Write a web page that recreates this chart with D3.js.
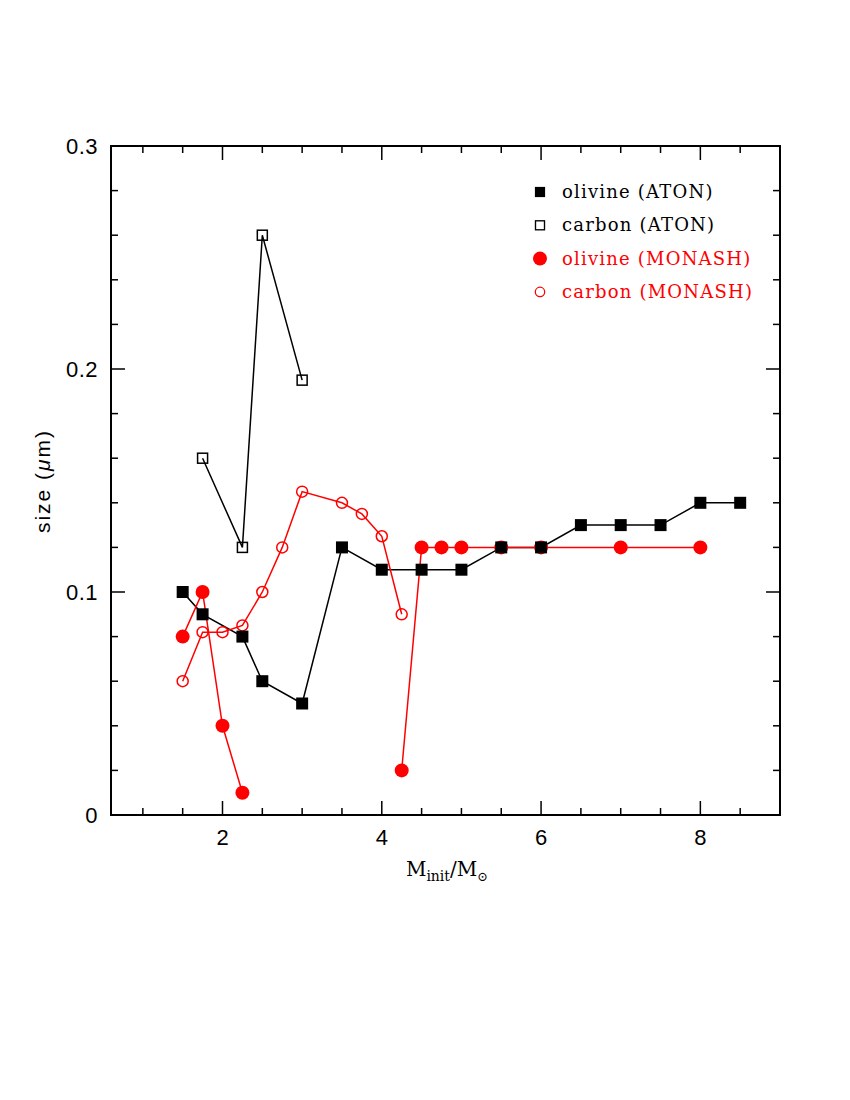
<!DOCTYPE html>
<html><head><meta charset="utf-8">
<script src="https://cdn.jsdelivr.net/npm/d3@7"></script>
<style>body{margin:0;background:#fff}</style>
</head><body>
<svg id="c" width="850" height="1100"></svg>
<script>
const olivineAtonX = [1.5,1.75,2.25,2.5,3,3.5,4,4.5,5,5.5,6,6.5,7,7.5,8,8.5];
const olivineAtonY = [0.10,0.09,0.08,0.06,0.05,0.12,0.11,0.11,0.11,0.12,0.12,0.13,0.13,0.13,0.14,0.14];
const carbonAtonX = [1.75,2.25,2.5,3];
const carbonAtonY = [0.16,0.12,0.26,0.195];
// null marks a break in the connecting line
const olivineMonashX = [1.5,1.75,2,2.25,null,4.25,4.5,4.75,5,5.5,6,7,8];
const olivineMonashY = [0.08,0.10,0.04,0.01,null,0.02,0.12,0.12,0.12,0.12,0.12,0.12,0.12];
const carbonMonashX = [1.5,1.75,2,2.25,2.5,2.75,3,3.5,3.75,4,4.25];
const carbonMonashY = [0.06,0.082,0.082,0.085,0.10,0.12,0.145,0.14,0.135,0.125,0.09];
const xMajorTicks = [2,4,6,8];
const yMajorTicks = [0,0.1,0.2,0.3];
const legendLabels = ["olivine (ATON)","carbon (ATON)","olivine (MONASH)","carbon (MONASH)"];

const svg = d3.select("#c");
const L=111, R=780, T=146, B=815;
const x = d3.scaleLinear().domain([0.6,9]).range([L,R]);
const y = d3.scaleLinear().domain([0,0.3]).range([B,T]);

const zip = (xs,ys)=>xs.map((v,i)=>({x:v,y:ys[i]}));
const line = d3.line().defined(d=>d.x!==null&&d.y!==null).x(d=>x(d.x)).y(d=>y(d.y));

// frame
svg.append("rect").attr("x",L).attr("y",T).attr("width",R-L).attr("height",B-T)
  .attr("fill","none").attr("stroke","#000").attr("stroke-width",2);

// ticks
const xMinor = d3.range(1,9.01,0.5).filter(v=>!xMajorTicks.includes(v));
const yMinor = d3.range(0.02,0.3,0.02).filter(v=>!yMajorTicks.some(t=>Math.abs(t-v)<1e-6));
const tg = svg.append("g").attr("stroke","#000").attr("stroke-width",1.5);
function xt(v,len){
  tg.append("line").attr("x1",x(v)).attr("x2",x(v)).attr("y1",B).attr("y2",B-len);
  tg.append("line").attr("x1",x(v)).attr("x2",x(v)).attr("y1",T).attr("y2",T+len);
}
function yt(v,len){
  tg.append("line").attr("y1",y(v)).attr("y2",y(v)).attr("x1",L).attr("x2",L+len);
  tg.append("line").attr("y1",y(v)).attr("y2",y(v)).attr("x1",R).attr("x2",R-len);
}
xMajorTicks.forEach(v=>xt(v,14)); xMinor.forEach(v=>xt(v,7));
yMajorTicks.forEach(v=>yt(v,14)); yMinor.forEach(v=>yt(v,7));

const tf = "Liberation Sans, Arial, sans-serif";
svg.append("g").selectAll("text").data(xMajorTicks).join("text")
  .attr("x",d=>x(d)).attr("y",B+30).attr("text-anchor","middle")
  .attr("font-family",tf).attr("font-size",22).text(d=>d);
svg.append("g").selectAll("text").data(yMajorTicks).join("text")
  .attr("x",L-13).attr("y",d=>y(d)+8).attr("text-anchor","end")
  .attr("font-family",tf).attr("font-size",22).attr("letter-spacing",0.5).text(d=>d===0?"0":d.toFixed(1));

// axis labels
const yl = svg.append("text").attr("transform",`translate(50,481) rotate(-90)`)
  .attr("text-anchor","middle").attr("font-family",tf).attr("font-size",21).attr("letter-spacing",2);
yl.append("tspan").text("size (");
yl.append("tspan").attr("font-style","italic").text("μ");
yl.append("tspan").text("m)");

const xl = svg.append("text").attr("x",447).attr("y",876).attr("text-anchor","middle")
  .attr("font-family","DejaVu Serif, serif").attr("font-size",20);
xl.append("tspan").text("M");
xl.append("tspan").attr("font-size",14).attr("dy",5).text("init");
xl.append("tspan").attr("dy",-5).text("/M");
xl.append("tspan").attr("font-size",13).attr("dy",5).text("⊙");

// lines
const dataSets = [
  {d:zip(olivineAtonX,olivineAtonY), c:"#000", type:"fsq"},
  {d:zip(carbonAtonX,carbonAtonY), c:"#000", type:"osq"},
  {d:zip(olivineMonashX,olivineMonashY), c:"#f00", type:"fci"},
  {d:zip(carbonMonashX,carbonMonashY), c:"#f00", type:"oci"},
];
dataSets.forEach(s=>{
  svg.append("path").attr("d",line(s.d)).attr("fill","none").attr("stroke",s.c).attr("stroke-width",1.5);
});
function marker(g,type,cx,cy,c){
  if(type==="fsq") g.append("rect").attr("x",cx-6).attr("y",cy-6).attr("width",12).attr("height",12).attr("fill",c);
  if(type==="osq") g.append("rect").attr("x",cx-5).attr("y",cy-5).attr("width",10).attr("height",10).attr("fill","none").attr("stroke",c).attr("stroke-width",1.5);
  if(type==="fci") g.append("circle").attr("cx",cx).attr("cy",cy).attr("r",7).attr("fill",c);
  if(type==="oci") g.append("circle").attr("cx",cx).attr("cy",cy).attr("r",5.5).attr("fill","none").attr("stroke",c).attr("stroke-width",1.5);
}
// draw order: monash carbon, monash olivine, aton olivine, aton carbon
[3,2,0,1].forEach(i=>{
  const s=dataSets[i]; const g=svg.append("g");
  s.d.filter(p=>p.x!==null).forEach(p=>marker(g,s.type,x(p.x),y(p.y),s.c));
});

// legend
const lg = svg.append("g");
legendLabels.forEach((t,i)=>{
  const yy = 192 + i*33.3;
  const s = dataSets[i];
  const sc = s.type==="fci"?1:(s.type==="oci"?0.85:(s.type==="fsq"?0.85:0.9));
  const g2 = lg.append("g").attr("transform",`translate(540,${yy}) scale(${sc})`);
  marker(g2,s.type,0,0,s.c);
  lg.append("text").attr("x",562).attr("y",yy+6).attr("font-family","DejaVu Serif, serif")
    .attr("font-size",18).attr("fill",s.c).attr("letter-spacing",1.2).text(t);
});
</script>
</body></html>
